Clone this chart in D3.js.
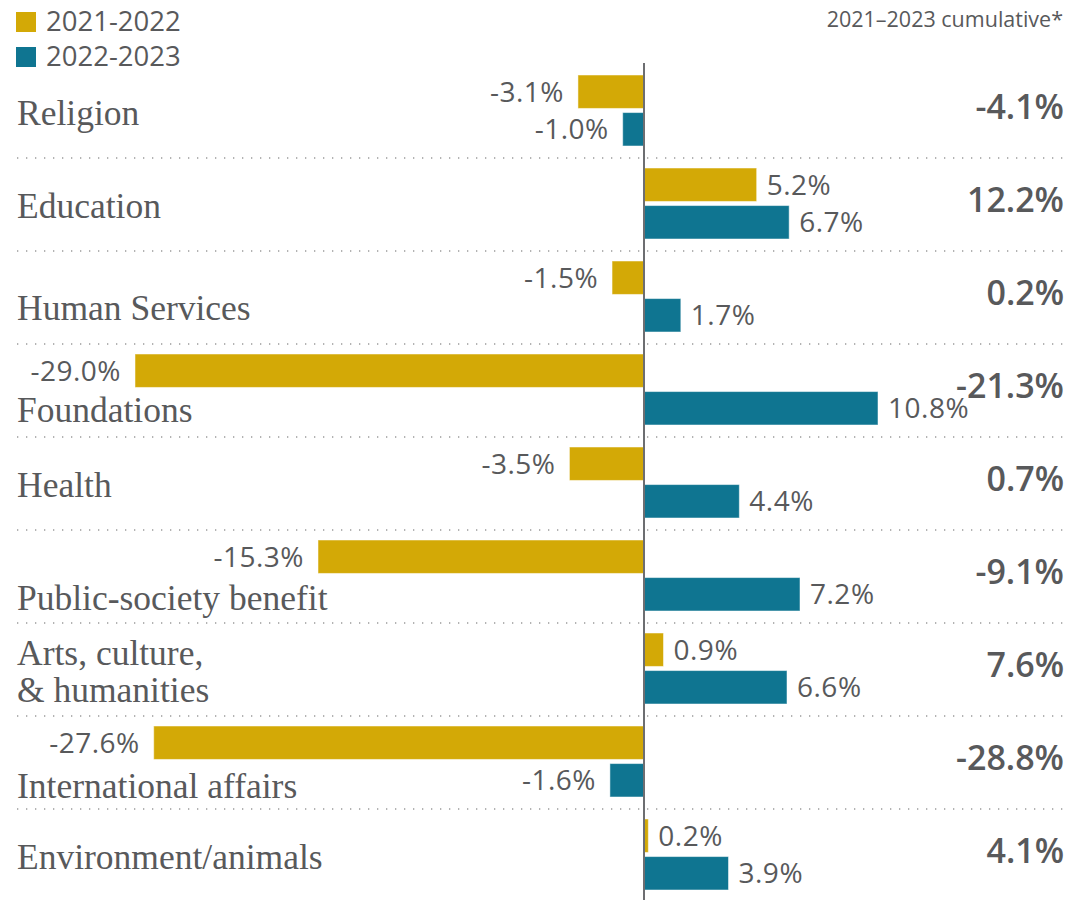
<!DOCTYPE html>
<html>
<head>
<meta charset="utf-8">
<script src="https://cdn.jsdelivr.net/npm/d3@7"></script>
<style>
  body { margin: 0; background: #fff; }
  svg { display: block; }
</style>
</head>
<body>
<svg id="svg"></svg>
<script>
const categories = ["Religion", "Education", "Human Services", "Foundations", "Health",
  "Public-society benefit", "Arts, culture,\n& humanities", "International affairs", "Environment/animals"];
const years = ["2021-2022", "2022-2023"];
const change2122 = [-3.1, 5.2, -1.5, -29.0, -3.5, -15.3, 0.9, -27.6, 0.2];
const change2223 = [-1.0, 6.7, 1.7, 10.8, 4.4, 7.2, 6.6, -1.6, 3.9];
const cumulative = [-4.1, 12.2, 0.2, -21.3, 0.7, -9.1, 7.6, -28.8, 4.1];
const cumulativeTitle = "2021\u20132023 cumulative*";

// label placement: pushed lower where the top bar runs under the label area
const labelLow = {"Human Services": 69, "Foundations": 78, "Public-society benefit": 80, "International affairs": 82};

const layout = {"width": 1071, "height": 900, "rowTop": 65, "rowH": 93, "left": 17, "right": 1065};
const colors = {"2021-2022": "#d3a906", "2022-2023": "#0f7591"};
const textColor = "#58595b";

const svg = d3.select("#svg").attr("width", layout.width).attr("height", layout.height);

const rows = categories.map((c, i) => ({cat: c, v: [change2122[i], change2223[i]], cum: cumulative[i]}));

const yRow = d3.scaleBand().domain(categories)
  .range([layout.rowTop, layout.rowTop + layout.rowH * categories.length]).padding(0);
const yBar = d3.scaleBand().domain(years).range([10, 81]).paddingInner(0.11);

// the source chart squeezes its longest negative bars a little
const xScale = d3.scaleLinear().domain([-29, -15.3, 0, 10.8]).range([135, 318, 644, 878]);

// legend
const legend = svg.append("g");
years.forEach((y, i) => {
  legend.append("rect").attr("x", 16).attr("y", 12 + i * 35).attr("width", 20).attr("height", 20)
    .attr("fill", colors[y]);
  legend.append("text").attr("x", 46).attr("y", 31 + i * 35)
    .attr("font-family", "Open Sans").attr("font-size", 27.5).attr("fill", textColor).text(y);
});
svg.append("text").attr("x", 1063).attr("y", 27).attr("text-anchor", "end")
  .attr("font-family", "Open Sans").attr("font-size", 21.5).attr("fill", textColor).text(cumulativeTitle);

// separators
svg.append("g").selectAll("line").data(categories.slice(1)).join("line")
  .attr("x1", layout.left).attr("x2", layout.right)
  .attr("y1", d => yRow(d)).attr("y2", d => yRow(d))
  .attr("stroke", "#9a9a9a").attr("stroke-width", 1.3).attr("stroke-dasharray", "1.3 7.7");

const g = svg.append("g").selectAll("g").data(rows).join("g")
  .attr("transform", d => `translate(0,${yRow(d.cat)})`);

// bars
g.selectAll("rect").data(d => d.v.map((v, j) => ({v, yr: years[j]}))).join("rect")
  .attr("x", d => Math.min(xScale(0), xScale(d.v)))
  .attr("width", d => Math.abs(xScale(d.v) - xScale(0)))
  .attr("y", d => yBar(d.yr)).attr("height", yBar.bandwidth())
  .attr("fill", d => colors[d.yr]).attr("stroke", "#fff").attr("stroke-opacity", 0.5).attr("stroke-width", 1);

// bar value labels
const fmt = v => v.toFixed(1) + "%";
g.selectAll("text.val").data(d => d.v.map((v, j) => ({v, yr: years[j]}))).join("text")
  .attr("class", "val")
  .attr("x", d => d.v < 0 ? xScale(d.v) - 14 : xScale(d.v) + 10)
  .attr("y", d => yBar(d.yr) + yBar.bandwidth() / 2 + 10)
  .attr("text-anchor", d => d.v < 0 ? "end" : "start")
  .attr("font-family", "Open Sans").attr("font-size", 28).attr("letter-spacing", 0.5)
  .attr("fill", textColor).text(d => fmt(d.v));

// category labels
g.append("text")
  .attr("font-family", "Liberation Serif, serif").attr("font-size", 35.5).attr("fill", textColor)
  .each(function(d) {
    const lines = d.cat.split("\n");
    const base = lines.length > 1 ? 42 : (labelLow[d.cat] || 60);
    d3.select(this).selectAll("tspan").data(lines).join("tspan")
      .attr("x", layout.left).attr("y", (l, k) => base + k * 37).text(l => l);
  });

// cumulative values
g.append("text").attr("x", 1064).attr("y", 54).attr("text-anchor", "end")
  .attr("font-family", "Open Sans").attr("font-weight", 600).attr("font-size", 34)
  .attr("fill", textColor).text(d => fmt(d.cum));

// zero line
svg.append("line").attr("x1", xScale(0)).attr("x2", xScale(0))
  .attr("y1", 63).attr("y2", layout.height).attr("stroke", "#6d6e71").attr("stroke-width", 2);
</script>
</body>
</html>
